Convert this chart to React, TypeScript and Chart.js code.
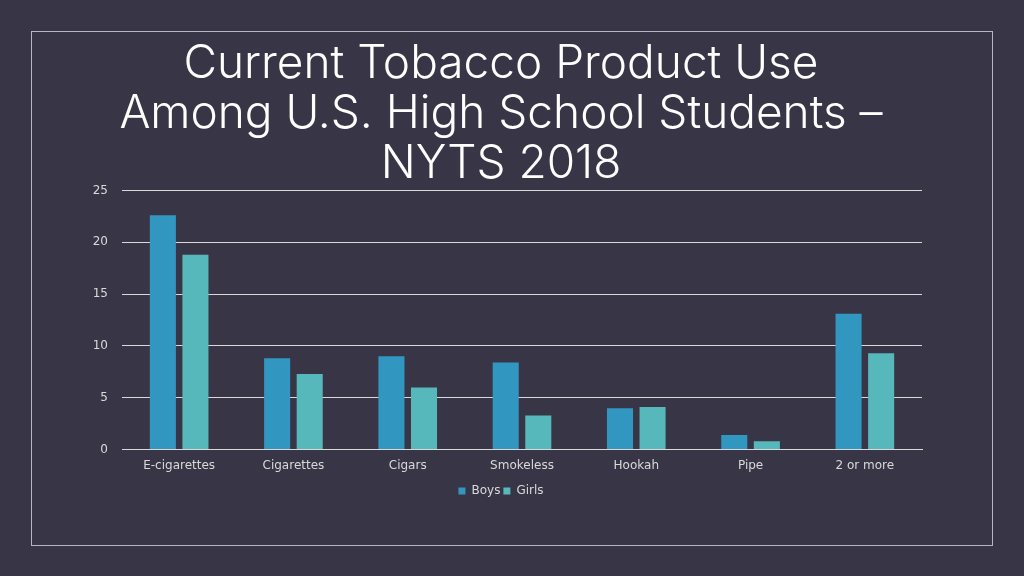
import React, { useEffect, useRef } from "react";
import { Chart, registerables } from "chart.js";

Chart.register(...registerables);

const categories = ["E-cigarettes", "Cigarettes", "Cigars", "Smokeless", "Hookah", "Pipe", "2 or more"];
const boys = [22.6, 8.8, 9.0, 8.4, 4.0, 1.4, 13.1];
const girls = [18.8, 7.3, 6.0, 3.3, 4.1, 0.8, 9.3];
const yTicks = [0, 5, 10, 15, 20, 25];
const titleLines = ["Current Tobacco Product Use", "Among U.S. High School Students \u2013", "NYTS 2018"];

export default function App() {
  const ref = useRef<HTMLCanvasElement | null>(null);
  useEffect(() => {
    if (!ref.current) return;
    const chart = new Chart(ref.current, {
      type: "bar",
      data: {
        labels: categories,
        datasets: [
          { label: "Boys", data: boys, backgroundColor: "#3297c0", barPercentage: 0.8, categoryPercentage: 0.57 },
          { label: "Girls", data: girls, backgroundColor: "#57b8bc", barPercentage: 0.8, categoryPercentage: 0.57 },
        ],
      },
      options: {
        animation: false,
        responsive: false,
        layout: { padding: { top: 39, left: 80, right: 102, bottom: 69 } },
        plugins: {
          title: {
            display: true,
            text: titleLines,
            color: "#ffffff",
            font: { family: "Inter", size: 46, weight: 300, lineHeight: 1.09 },
            padding: { top: 0, bottom: 1 },
          },
          legend: {
            position: "bottom",
            labels: {
              color: "#d9d9d9",
              font: { family: "DejaVu Sans", size: 12 },
              boxWidth: 7,
              boxHeight: 7,
              padding: 3,
            },
          },
          tooltip: { enabled: false },
        },
        scales: {
          x: {
            grid: { display: false, drawTicks: false },
            border: { color: "#d9d9d9", width: 1 },
            ticks: { color: "#d9d9d9", font: { family: "DejaVu Sans", size: 12 }, padding: 9 },
          },
          y: {
            min: 0,
            max: 25,
            afterFit: (s: any) => { s.width = 42; },
            afterBuildTicks: (s: any) => { s.ticks = yTicks.map((v) => ({ value: v })); },
            grid: { color: "#d9d9d9", drawTicks: false, lineWidth: 1 },
            border: { display: false },
            ticks: { color: "#d9d9d9", font: { family: "DejaVu Sans", size: 12 }, padding: 14 },
          },
        },
      },
    });
    return () => chart.destroy();
  }, []);
  return (
    <div style={{ position: "fixed", left: 0, top: 0, width: 1024, height: 576, background: "#383646" }}>
      <div style={{ position: "absolute", left: 31, top: 31, width: 960, height: 513, border: "1px solid #b8b6c0" }} />
      <canvas ref={ref} width={1024} height={576} style={{ position: "absolute", left: 0, top: 0 }} />
    </div>
  );
}
